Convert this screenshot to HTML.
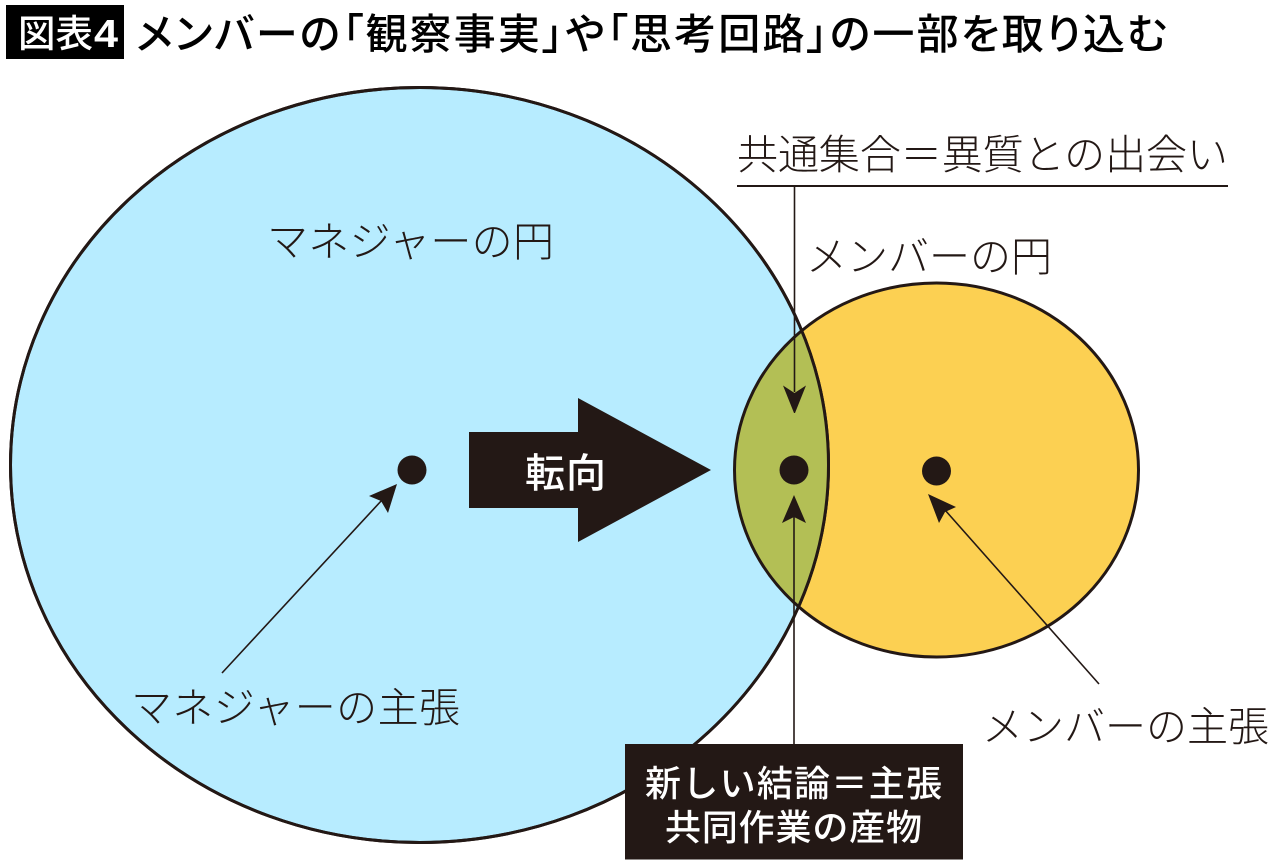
<!DOCTYPE html>
<html lang="ja">
<head>
<meta charset="utf-8">
<style>
html,body{margin:0;padding:0;background:#fff;width:1280px;height:867px;overflow:hidden}
svg{display:block}
text{font-family:"Liberation Sans","Noto Sans CJK JP",sans-serif;fill:#231815}
.l{font-weight:300}
</style>
</head>
<body>
<svg width="1280" height="867" viewBox="0 0 1280 867" xmlns="http://www.w3.org/2000/svg">
<defs>
<clipPath id="big"><ellipse cx="419.5" cy="465" rx="409" ry="377.5"/></clipPath>
</defs>
<rect x="6" y="5" width="118" height="54" fill="#000"/>
<text x="18" y="47" font-size="38" font-weight="500" style="fill:#fff" textLength="75" lengthAdjust="spacingAndGlyphs">図表</text>
<text x="94" y="47" font-size="39" font-weight="700" style="fill:#fff" textLength="24" lengthAdjust="spacingAndGlyphs">4</text>
<text x="136" y="49" font-size="42" font-weight="500" style="fill:#000;font-feature-settings:'palt'" textLength="1031" lengthAdjust="spacing">メンバーの「観察事実」や「思考回路」の一部を取り込む</text>

<ellipse cx="936.5" cy="470" rx="202" ry="187" fill="#fcd052" stroke="#231815" stroke-width="3"/>
<ellipse cx="419.5" cy="465" rx="409" ry="377.5" fill="#b7ecff" stroke="#231815" stroke-width="3"/>
<ellipse cx="936.5" cy="470" rx="202" ry="187" fill="#b3bf55" clip-path="url(#big)"/>
<ellipse cx="936.5" cy="470" rx="202" ry="187" fill="none" stroke="#231815" stroke-width="3" clip-path="url(#big)"/>
<ellipse cx="419.5" cy="465" rx="409" ry="377.5" fill="none" stroke="#231815" stroke-width="3"/>

<text class="l" x="737" y="169" font-size="41" textLength="491" lengthAdjust="spacing">共通集合＝異質との出会い</text>
<line x1="737" y1="186" x2="1228" y2="186" stroke="#231815" stroke-width="2"/>
<line x1="794.5" y1="186" x2="794.5" y2="392" stroke="#231815" stroke-width="1.6"/>
<polygon points="783,385.5 794.5,393 806,385.5 795,413 794,413" fill="#231815"/>

<text class="l" x="806" y="271" font-size="41" textLength="246" lengthAdjust="spacing">メンバーの円</text>
<text class="l" x="267" y="256" font-size="41" textLength="287" lengthAdjust="spacing">マネジャーの円</text>

<circle cx="412" cy="470" r="14.5" fill="#231815"/>
<circle cx="794" cy="470" r="14.5" fill="#231815"/>
<circle cx="936.5" cy="471" r="14.5" fill="#231815"/>

<polygon points="469,432 578,432 578,398 711,470 578,542 578,508 469,508" fill="#231815"/>
<text x="525" y="487" font-size="40" font-weight="500" style="fill:#fff" textLength="81" lengthAdjust="spacing">転向</text>

<line x1="222" y1="673" x2="382" y2="500" stroke="#231815" stroke-width="1.6"/>
<polygon points="397,484 388,513 381,501 369,496" fill="#231815"/>
<text class="l" x="131" y="722" font-size="41" textLength="329" lengthAdjust="spacing">マネジャーの主張</text>

<line x1="794" y1="515" x2="794" y2="745" stroke="#231815" stroke-width="1.6"/>
<polygon points="794,495 806,523 794,517 782,523" fill="#231815"/>

<line x1="1099" y1="684" x2="945" y2="510" stroke="#231815" stroke-width="1.6"/>
<polygon points="928,494 956,507 945,512 939,523" fill="#231815"/>
<text class="l" x="982" y="741" font-size="41" textLength="287" lengthAdjust="spacing">メンバーの主張</text>

<rect x="625" y="744" width="338" height="115.5" fill="#231815"/>
<text x="645" y="796" font-size="36" font-weight="500" style="fill:#fff" textLength="297" lengthAdjust="spacing">新しい結論＝主張</text>
<text x="665" y="840" font-size="36" font-weight="500" style="fill:#fff" textLength="257" lengthAdjust="spacing">共同作業の産物</text>
</svg>
</body>
</html>
